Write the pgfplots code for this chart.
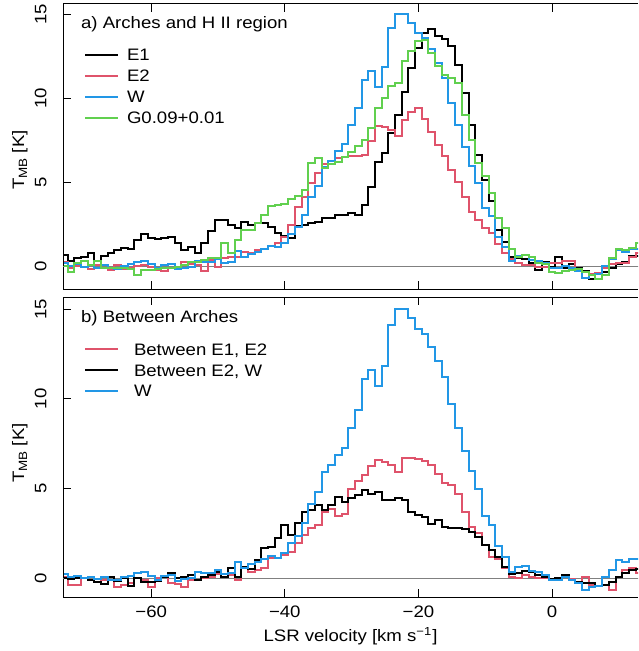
\documentclass[border=0pt]{standalone}
\usepackage{fontspec}
\setmainfont{Liberation Sans}[FakeStretch=1.12]
\usepackage{pgfplots}
\usepackage{pgfplotstable}
\pgfplotsset{compat=1.18}

\definecolor{specred}{HTML}{DF536B}
\definecolor{specblue}{HTML}{2297E6}
\definecolor{specgreen}{HTML}{61D04F}
\definecolor{zerogray}{gray}{0.5}

% channel centre velocity (km/s) and main-beam temperature (K)
\pgfplotstableread{
v    E1     E2     W      G      B12    B2W
-73  0.69   0.30   0.25   0.05   0.05   0.00
-72  0.35  -0.10   0.05  -0.30  -0.37  -0.05
-71  0.50   0.05   0.15   0.25  -0.37   0.04
-70  0.60   0.00   0.00   0.34   0.00   0.00
-69  0.83  -0.15   0.10   0.10  -0.10  -0.10
-68  0.36   0.10  -0.05   0.34  -0.19  -0.19
-67  0.63  -0.10   0.10  -0.05  -0.10  -0.30
-66  0.83  -0.20  -0.10  -0.10  -0.10   0.05
-65  1.00   0.10  -0.12  -0.05  -0.46  -0.15
-64  1.09  -0.15   0.05  -0.10  -0.37   0.00
-63  1.03  -0.05   0.15  -0.15  -0.28  -0.43
-62  1.59   0.05   0.30  -0.50   0.00   0.00
-61  1.94   0.10   0.35  -0.20  -0.10  -0.19
-60  1.73   0.00   0.15  -0.20  -0.46  -0.19
-59  1.65  -0.20  -0.10  -0.14   0.00  -0.13
-58  1.69  -0.26   0.12  -0.10   0.10   0.10
-57  1.79  -0.05   0.18  -0.05  -0.28   0.28
-56  1.40  -0.05  -0.15   0.00  -0.32   0.00
-55  1.00   0.26  -0.05   0.10  -0.50   0.05
-54  1.15   0.15   0.00   0.30  -0.10   0.19
-53  0.80   0.10   0.35   0.30  -0.10  -0.10
-52  1.40  -0.28   0.30   0.40   0.00   0.10
-51  2.10   0.40   0.30   0.50   0.10   0.19
-50  2.75   0.00   0.48   0.50   0.24   0.37
-49  2.80   0.50   0.22   1.39   0.10   0.10
-48  2.50   0.60   0.30   0.80   0.19   0.56
-47  2.28   0.60   0.92   1.59  -0.10   0.10
-46  2.68   0.90   0.60   2.18   0.56   0.65
-45  2.48   0.80   0.78   2.20   0.37   0.50
-44  2.58   1.00   0.90   2.62   0.46   1.02
-43  2.62   1.05   1.05   3.08   0.56   1.67
-42  2.38   1.23   1.25   3.61   1.12   1.77
-41  1.98   1.43   1.15   3.67   1.12   2.23
-40  1.85   1.79   1.40   3.75   1.30   2.97
-39  1.72   2.48   1.96   4.00   1.49   2.42
-38  2.40   3.57   2.35   4.20   1.95   3.07
-37  2.48   4.17   3.10   4.56   2.40   3.68
-36  2.58   4.96   4.15   6.15   2.80   3.79
-35  2.68   5.56   4.80   6.45   3.00   4.07
-34  2.88   6.11   5.92   5.85   3.70   3.79
-33  2.92   6.25   6.30   6.10   3.85   4.07
-32  3.08   6.45   6.85   6.20   3.50   4.54
-31  3.05   6.50   7.26   6.50   3.60   4.23
-30  3.20   6.55   8.40   6.80   5.00   4.45
-29  3.08   6.60   9.40   7.14   5.40   4.64
-28  3.67   6.65  11.10   7.50   5.75   4.93
-27  4.76   7.44  11.60   8.23   6.25   4.70
-26  6.19   8.33  10.70   9.42   6.60   4.82
-25  6.75   8.30  11.85  10.00   6.50   4.38
-24  7.95   8.10  14.15  10.75   6.30   4.36
-23  9.03   7.75  15.00  10.90   5.95   4.45
-22 10.35   8.70  15.00  12.20   6.73   4.36
-21 11.80   9.20  14.50  12.80   6.73   3.71
-20 13.00   9.45  13.90  13.40   6.65   3.55
-19 13.85   8.80  13.60  13.45   6.55   3.43
-18 14.10   8.00  12.90  12.70   6.30   3.04
-17 13.70   7.25  12.10  11.90   5.80   3.24
-16 13.50   6.55  11.20  11.40   5.30   2.84
-15 13.10   5.75   9.73  11.20   5.20   2.79
-14 12.00   5.05   8.40  10.90   4.72   2.80
-13 10.30   4.15   7.10   9.03   3.70   2.74
-12  8.43   3.27   5.97   7.54   2.88   2.60
-11  6.65   2.75   5.00   6.15   2.50   2.32
-10  5.16   2.30   3.50   5.36   1.86   1.86
-9   3.90   1.98   3.00   4.40   1.20   1.60
-8   2.18   1.35   1.78   2.90   1.10   1.16
-7   1.49   0.80   1.20   2.30   0.56   0.65
-6   0.55   0.45   0.33   1.05   0.10   0.24
-5   0.50   0.20   0.62   0.60   0.00   0.30
-4   0.45   0.10   0.68   0.70   0.20   0.40
-3   0.20   0.10   0.38   0.60   0.10   0.37
-2  -0.22   0.00   0.33   0.20   0.00   0.19
-1   0.30   0.00   0.20   0.15   0.00   0.10
0    0.00   0.24  -0.10  -0.30  -0.10  -0.05
1    0.55   0.20  -0.10  -0.35  -0.10   0.00
2   -0.05   0.36   0.05  -0.25   0.10   0.19
3    0.18   0.36  -0.10  -0.20  -0.05  -0.10
4   -0.05  -0.20  -0.24  -0.15  -0.28  -0.19
5   -0.28  -0.30  -0.65  -0.30   0.10  -0.28
6   -0.72  -0.45  -0.50  -0.50  -0.37  -0.28
7   -0.72  -0.35  -0.45  -0.70  -0.45  -0.43
8   -0.30  -0.10   0.05  -0.50  -0.37  -0.37
9   -0.05   0.16   0.48   0.50  -0.65  -0.19
10   0.18   0.20   1.00   1.03   0.10   0.10
11   0.28   0.25   0.90   1.00   0.46   0.28
12   0.66   0.60   1.05   1.10   0.56   0.46
13   0.66   0.80   1.05   1.43   0.30   0.50
}\spectra

\pgfplotsset{
  specpanel/.style={
    scale only axis,
    width=287.5pt,
    xmin=-73.2, xmax=12.87,
    xtick={-60,-40,-20,0},
    ytick={0,5,10,15},
    yticklabels={0,5,10,15},
    axis x line*=box,
    axis y line*=left,
    axis line style={-, line width=0.5pt},
    tick align=inside,
    major tick length=4pt,
    major tick style={black, line width=0.5pt},
    yticklabel style={rotate=90, anchor=south, inner sep=0pt},
    yticklabel shift=8pt,
    ylabel={T\raisebox{-0.35ex}{\fontsize{6}{7}\selectfont MB} [K]},
    legend cell align=left,
    legend image code/.code={\draw[#1, line width=1pt] (0pt,0pt) -- (16.5pt,0pt);},
  },
  specline/.style={line width=1pt, const plot mark mid},
}

\begin{document}
\begin{tikzpicture}[font=\fontsize{8.3}{10}\selectfont]

% a) Arches filaments and the H II region
\begin{axis}[specpanel,
  at={(31.5pt,-2pt)}, anchor=north west,
  height=142.75pt,
  ymin=-1.35, ymax=15.6,
  xticklabels={},
  ylabel style={at={(axis description cs:-0.0678,0.4536)}, anchor=base},
  legend style={at={(0,1)}, anchor=north west, xshift=10.5pt, yshift=-20.5pt,
    draw=none, fill=none, inner sep=0pt, outer sep=0pt, row sep=0.5pt,
    nodes={inner sep=0pt, text height=8pt, text depth=2pt},
    /tikz/every odd column/.append style={column sep=4pt}},
]
\addplot[zerogray, line width=0.5pt, forget plot] coordinates {(-80,0) (20,0)};
\addplot[black, specline] table[x=v, y=E1] {\spectra};
\addlegendentry{E1}
\addplot[specred, specline] table[x=v, y=E2] {\spectra};
\addlegendentry{E2}
\addplot[specblue, specline] table[x=v, y=W] {\spectra};
\addlegendentry{W}
\addplot[specgreen, specline] table[x=v, y=G] {\spectra};
\addlegendentry{G0.09+0.01}
\node[anchor=base west, inner sep=0pt, xshift=8.85pt, yshift=-12.5pt]
  at (rel axis cs:0,1) {a) Arches and H II region};
\end{axis}

% b) positions between the filaments
\begin{axis}[specpanel,
  at={(31.5pt,-148.65pt)}, anchor=north west,
  height=150pt,
  ymin=-1.06, ymax=15.67,
  xticklabels={−60,−40,−20,0},
  xticklabel style={anchor=north, inner sep=0pt},
  xticklabel shift=4.35pt,
  xlabel={LSR velocity [km s\textsuperscript{−1}]},
  xlabel style={at={(axis description cs:0.5,-0.1457)}, anchor=base},
  ylabel style={at={(axis description cs:-0.0678,0.481)}, anchor=base},
  legend style={at={(0,1)}, anchor=north west, xshift=10.5pt, yshift=-21pt,
    draw=none, fill=none, inner sep=0pt, outer sep=0pt, row sep=0.35pt,
    nodes={inner sep=0pt, text height=8pt, text depth=2pt},
    /tikz/every odd column/.append style={column sep=7.5pt}},
]
\addplot[zerogray, line width=0.5pt, forget plot] coordinates {(-80,0) (20,0)};
\addplot[specred, specline] table[x=v, y=B12] {\spectra};
\addlegendentry{Between E1, E2}
\addplot[black, specline] table[x=v, y=B2W] {\spectra};
\addlegendentry{Between E2, W}
\addplot[specblue, specline] table[x=v, y=W] {\spectra};
\addlegendentry{W}
\node[anchor=base west, inner sep=0pt, xshift=8.85pt, yshift=-12.7pt]
  at (rel axis cs:0,1) {b) Between Arches};
\end{axis}

\pgfresetboundingbox
\useasboundingbox (0pt,0pt) rectangle (319pt,-325.5pt);
\end{tikzpicture}
\end{document}
